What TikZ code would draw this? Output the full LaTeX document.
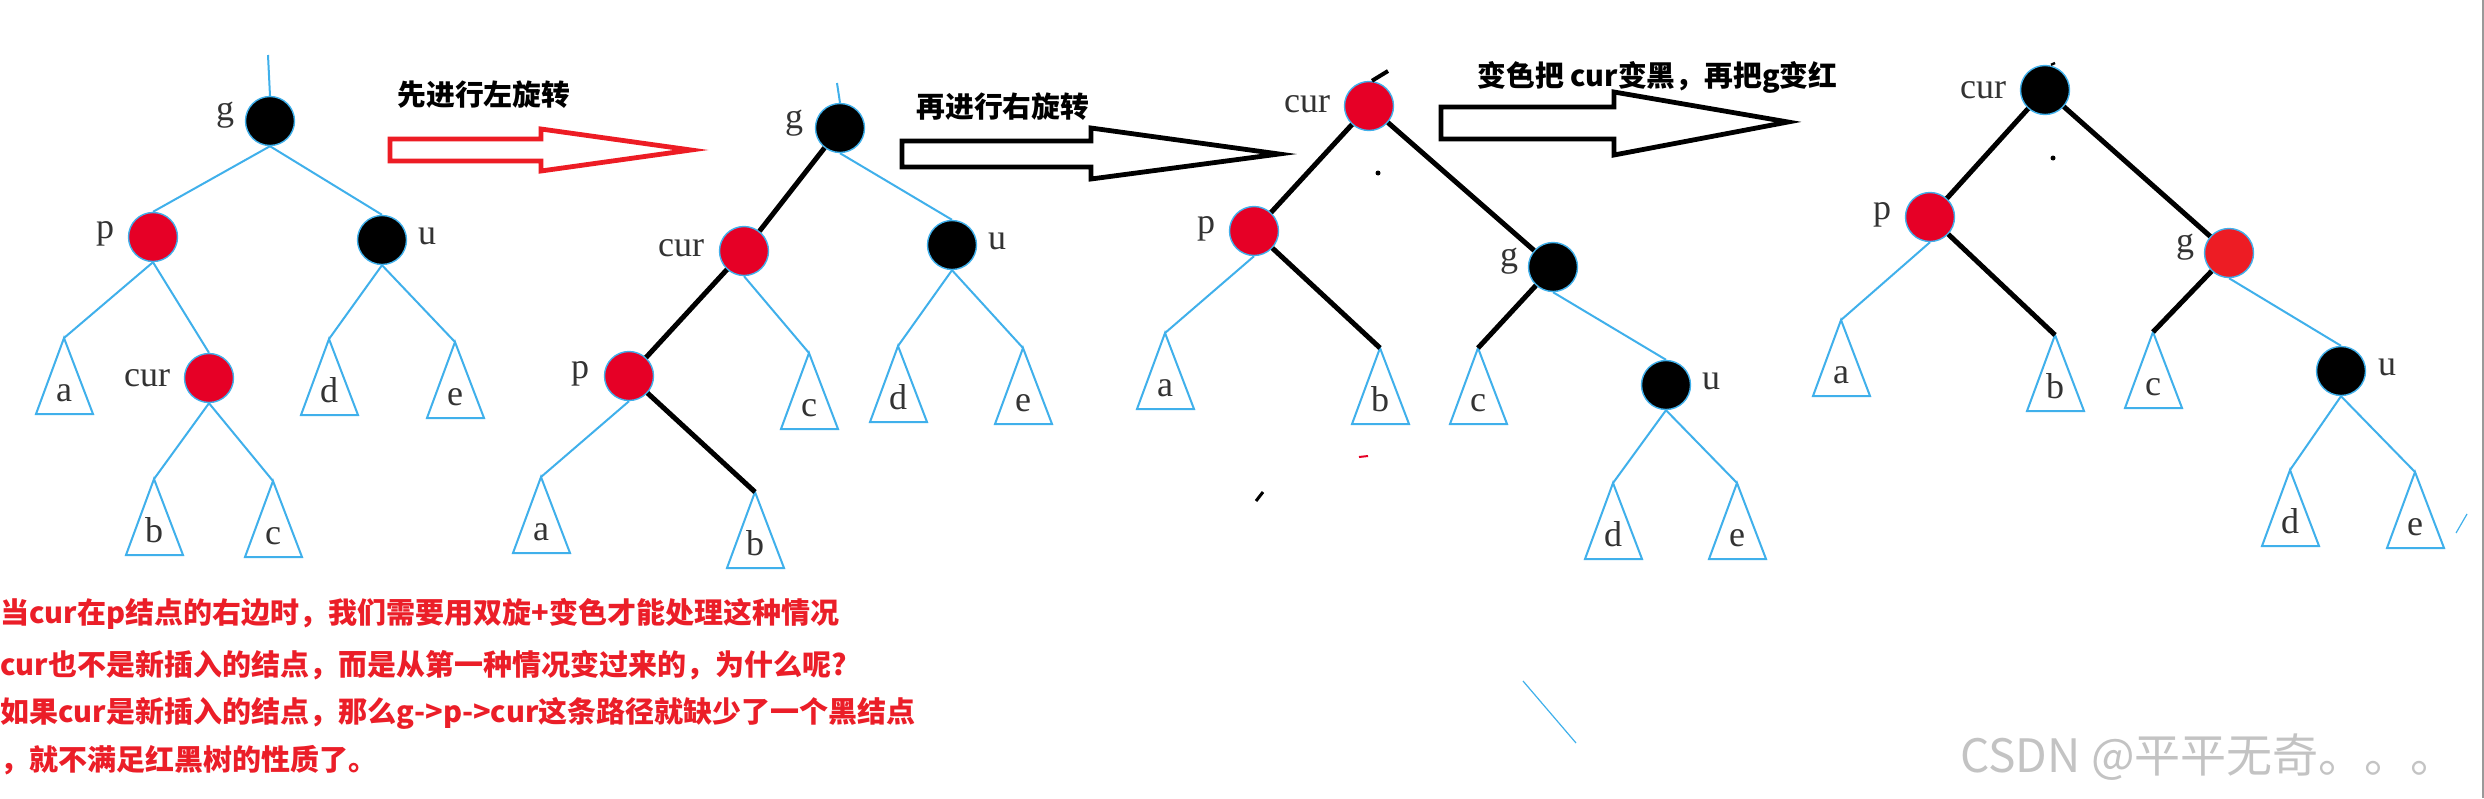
\documentclass[tikz,border=0pt]{standalone}
\usepackage{fontspec}
\setmainfont{Liberation Serif}
\newfontfamily\cjk{Noto Sans CJK SC}
\usetikzlibrary{calc}
\definecolor{lb}{RGB}{64,176,235}
\definecolor{nred}{RGB}{230,0,38}
\definecolor{gred}{RGB}{237,28,36}
\definecolor{tred}{RGB}{235,30,40}
\definecolor{wm}{RGB}{195,195,195}
\tikzset{
  rnode/.style={circle,fill=nred,draw=lb,line width=0.7pt,minimum size=24.5pt,inner sep=0pt},
  bnode/.style={rnode,fill=black},
  lbl/.style={font=\fontsize{18}{20}\selectfont,text=black!80,inner sep=0pt},
  bline/.style={draw=lb,line width=1pt},
  kline/.style={draw=black,line width=2.5pt},
  tri/.style={draw=lb,line width=1pt,line join=miter},
  title/.style={font=\cjk\bfseries\fontsize{14.4}{16}\selectfont,inner sep=0pt,anchor=west},
  note/.style={font=\cjk\bfseries\fontsize{14.5}{18}\selectfont,text=tred,inner sep=0pt,anchor=west},
  hollow/.style={line width=2.4pt,line join=miter},
}
\newcommand\subt[3]{%
  \coordinate (#1) at (#2);
  \draw[tri] (#1) -- ++(-28,76) -- ++(57,0) -- cycle;
  \node[lbl,anchor=base] (#1l) at ($(#1)+(0,63)$) {#3};
}
\begin{document}
\begin{tikzpicture}[x=0.5pt,y=-0.5pt]
\fill[white] (0,0) rectangle (2484,798);
\useasboundingbox (0,0) rectangle (2484,798);

% ---------- tree 1 ----------
\node[bnode] (g1) at (270,121) {};
\node[lbl,anchor=mid] (g1l) at (225,116) {g};
\coordinate (g1top) at (268,55);
\draw[bline] (g1top) -- (g1.north);
\node[rnode] (p1) at (153,237) {};
\node[lbl,anchor=mid] (p1l) at (105,234) {p};
\node[bnode] (u1) at (382,240) {};
\node[lbl,anchor=mid] (u1l) at (427,240) {u};
\node[rnode] (c1) at (209,378) {};
\node[lbl,anchor=mid] (c1l) at (147,382) {cur};
\subt{a1}{64,338}{a}
\subt{d1}{329,339}{d}
\subt{e1}{455,342}{e}
\subt{b1}{154,479}{b}
\subt{cc1}{273,481}{c}
\draw[bline] (g1.south) -- (p1.north);
\draw[bline] (g1.south) -- (u1.north);
\draw[bline] (p1.south) -- (a1);
\draw[bline] (p1.south) -- (c1.north);
\draw[bline] (u1.south) -- (d1);
\draw[bline] (u1.south) -- (e1);
\draw[bline] (c1.south) -- (b1);
\draw[bline] (c1.south) -- (cc1);

% ---------- tree 2 ----------
\node[bnode] (g2) at (840,128) {};
\node[lbl,anchor=mid] (g2l) at (794,124) {g};
\coordinate (g2top) at (837,83);
\draw[bline] (g2top) -- (g2.north);
\node[rnode] (c2) at (744,251) {};
\node[lbl,anchor=mid] (c2l) at (681,252) {cur};
\node[bnode] (u2) at (952,245) {};
\node[lbl,anchor=mid] (u2l) at (997,245) {u};
\node[rnode] (p2) at (629,376) {};
\node[lbl,anchor=mid] (p2l) at (580,374) {p};
\subt{cc2}{809,353}{c}
\subt{d2}{898,346}{d}
\subt{e2}{1023,348}{e}
\subt{a2}{541,477}{a}
\subt{b2}{755,492}{b}
\draw[kline] (g2) -- (c2);
\draw[kline] (c2) -- (p2);
\draw[kline] (p2) -- (b2);
\draw[bline] (g2.south) -- (u2.north);
\draw[bline] (c2.south) -- (cc2);
\draw[bline] (u2.south) -- (d2);
\draw[bline] (u2.south) -- (e2);
\draw[bline] (p2.south) -- (a2);

% ---------- tree 3 ----------
\node[rnode] (c3) at (1369,106) {};
\node[lbl,anchor=mid] (c3l) at (1307,108) {cur};
\coordinate (c3s) at (1388,71);
\draw[kline,line width=2pt] ([xshift=1.5pt]c3.north) -- (c3s);
\node[rnode] (p3) at (1254,231) {};
\node[lbl,anchor=mid] (p3l) at (1206,229) {p};
\node[bnode] (g3) at (1553,267) {};
\node[lbl,anchor=mid] (g3l) at (1509,262) {g};
\node[bnode] (u3) at (1666,385) {};
\node[lbl,anchor=mid] (u3l) at (1711,385) {u};
\subt{a3}{1165,333}{a}
\subt{b3}{1380,348}{b}
\subt{cc3}{1478,348}{c}
\subt{d3}{1613,483}{d}
\subt{e3}{1737,483}{e}
\draw[kline] (c3) -- (p3);
\draw[kline] (c3) -- (g3);
\draw[kline] (p3) -- (b3);
\draw[kline] (g3) -- (cc3);
\draw[bline] (p3.south) -- (a3);
\draw[bline] (g3.south) -- (u3.north);
\draw[bline] (u3.south) -- (d3);
\draw[bline] (u3.south) -- (e3);
\fill (1378,173) circle[radius=2.5];
\draw[black,line width=1.5pt] (1256,501) -- (1263,492);
\draw[nred,line width=1pt] (1359,457) -- (1368,456);
\draw[lb,line width=0.6pt] (1523,681) -- (1576,743);

% ---------- tree 4 ----------
\node[bnode] (c4) at (2045,90) {};
\node[lbl,anchor=mid] (c4l) at (1983,94) {cur};
\coordinate (c4s) at (2055,63);
\draw[kline,line width=1.2pt] ([xshift=3pt]c4.north) -- (c4s);
\node[rnode] (p4) at (1930,217) {};
\node[lbl,anchor=mid] (p4l) at (1882,215) {p};
\node[rnode,fill=gred] (g4) at (2229,253) {};
\node[lbl,anchor=mid] (g4l) at (2185,248) {g};
\node[bnode] (u4) at (2341,371) {};
\node[lbl,anchor=mid] (u4l) at (2387,371) {u};
\subt{a4}{1841,320}{a}
\subt{b4}{2055,335}{b}
\subt{cc4}{2153,332}{c}
\subt{d4}{2290,470}{d}
\subt{e4}{2415,472}{e}
\draw[kline] (c4) -- (p4);
\draw[kline] (c4) -- (g4);
\draw[kline] (p4) -- (b4);
\draw[kline] (g4) -- (cc4);
\draw[bline] (p4.south) -- (a4);
\draw[bline] (g4.south) -- (u4.north);
\draw[bline] (u4.south) -- (d4);
\draw[bline] (u4.south) -- (e4);
\fill (2053,158) circle[radius=2.5];
\draw[lb,line width=0.6pt] (2456,533) -- (2467,514);

% ---------- hollow arrows ----------
\draw[hollow,draw=gred] (390,139) -- (541,139) -- (541,129) -- (691,150) -- (541,171) -- (541,161) -- (390,161) -- cycle;
\draw[hollow,draw=black] (902,141) -- (1091,141) -- (1091,128) -- (1279,154) -- (1091,179) -- (1091,167) -- (902,167) -- cycle;
\draw[hollow,draw=black] (1441,107) -- (1614,107) -- (1614,92) -- (1788,122) -- (1614,155) -- (1614,139) -- (1441,139) -- cycle;

% ---------- titles ----------
\node[title] (t1) at (397,95) {先进行左旋转};
\node[title] (t2) at (916,107) {再进行右旋转};
\node[title] (t3) at (1477,77) {变色把 cur变黑，再把g变红};

% ---------- notes ----------
\node[note] (n1) at (0,614) {当cur在p结点的右边时，我们需要用双旋+变色才能处理这种情况};
\node[note] (n2) at (0,665) {cur也不是新插入的结点，而是从第一种情况变过来的，为什么呢?};
\node[note] (n3) at (0,713) {如果cur是新插入的结点，那么g->p->cur这条路径就缺少了一个黑结点};
\node[note] (n4) at (0,760) {，就不满足红黑树的性质了。};

% ---------- watermark & border ----------
\node[font=\cjk\fontsize{23}{25}\selectfont,text=wm,anchor=west,inner sep=0pt] (wmk) at (1960,757) {CSDN @平平无奇。。。};
\draw[gray!80,line width=0.8pt] (2483,0) -- (2483,798);
\end{tikzpicture}
\end{document}
